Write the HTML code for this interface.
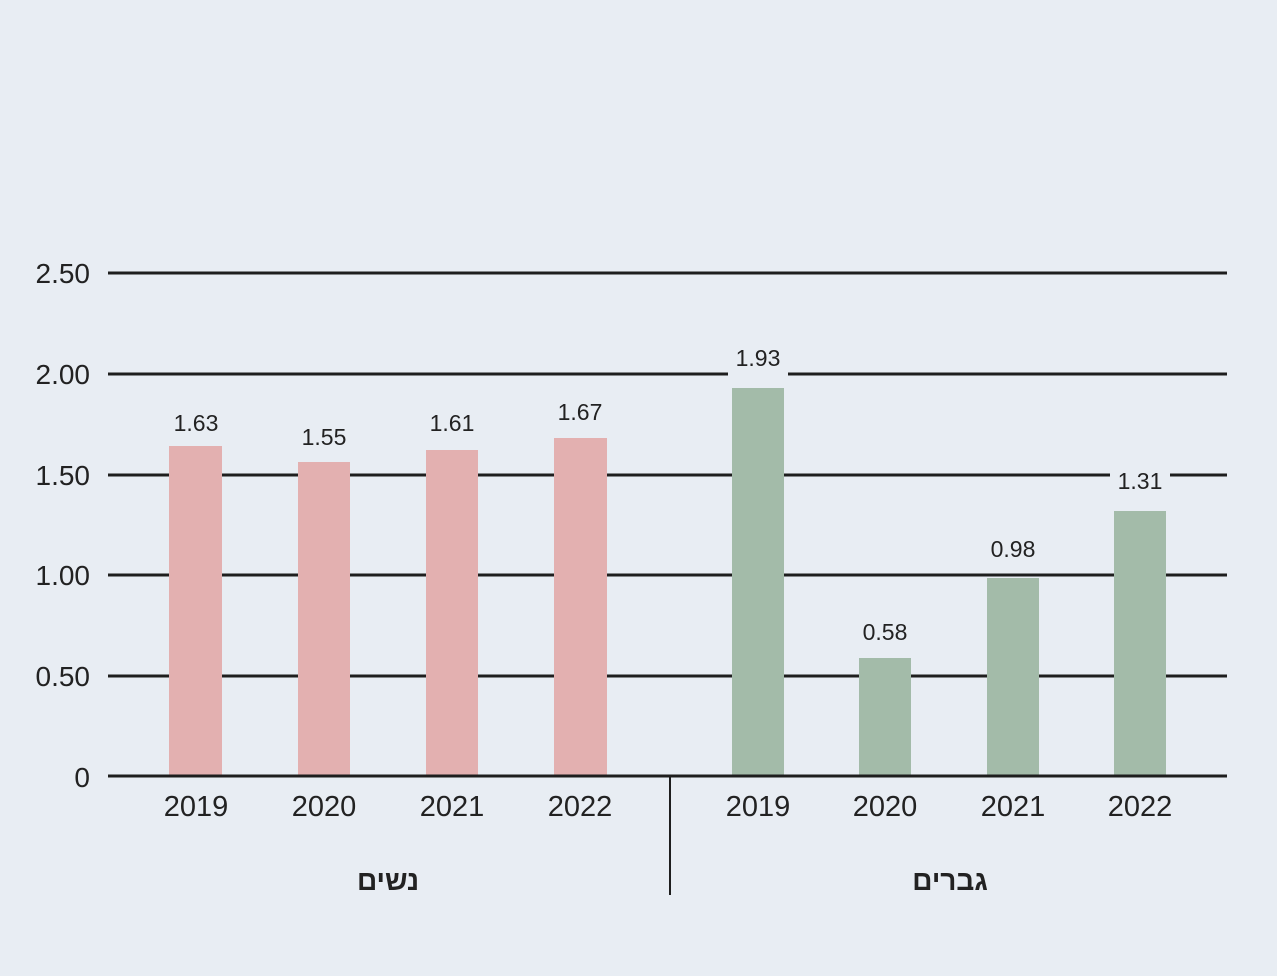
<!DOCTYPE html><html><head><meta charset="utf-8"><style>
html,body{margin:0;padding:0;background:#e8edf3;}
svg{display:block;font-family:"Liberation Sans","Noto Sans CJK SC",sans-serif;}
</style></head><body>
<svg width="1277" height="976" viewBox="0 0 1277 976">
<rect width="1277" height="976" fill="#e8edf3"/>
<g stroke="#1e1e1e" stroke-width="3">
<line x1="108" y1="273" x2="1227" y2="273"/>
<line x1="108" y1="374" x2="1227" y2="374"/>
<line x1="108" y1="475" x2="1227" y2="475"/>
<line x1="108" y1="575" x2="1227" y2="575"/>
<line x1="108" y1="676" x2="1227" y2="676"/>
</g>
<g fill="#e3b0b0">
<rect x="169" y="446" width="53" height="330"/>
<rect x="298" y="462" width="52" height="314"/>
<rect x="426" y="450" width="52" height="326"/>
<rect x="554" y="438" width="53" height="338"/>
</g>
<g fill="#a3bba9">
<rect x="732" y="386" width="52" height="390"/>
<rect x="859" y="658" width="52" height="118"/>
<rect x="987" y="578" width="52" height="198"/>
<rect x="1114" y="511" width="52" height="265"/>
</g>
<rect x="728" y="360" width="60" height="28" fill="#e8edf3"/>
<rect x="1110" y="466" width="60" height="28" fill="#e8edf3"/>
<line x1="108" y1="776" x2="1227" y2="776" stroke="#1e1e1e" stroke-width="3"/>
<line x1="670" y1="776" x2="670" y2="895" stroke="#1e1e1e" stroke-width="2"/>
<g font-size="23" fill="#222" text-anchor="middle">
<text x="196" y="431">1.63</text>
<text x="324" y="445">1.55</text>
<text x="452" y="431">1.61</text>
<text x="580" y="420">1.67</text>
<text x="758" y="366">1.93</text>
<text x="885" y="640">0.58</text>
<text x="1013" y="557">0.98</text>
<text x="1140" y="489">1.31</text>
</g>
<g font-size="28" fill="#222" text-anchor="end">
<text x="90" y="283">2.50</text>
<text x="90" y="384">2.00</text>
<text x="90" y="485">1.50</text>
<text x="90" y="585">1.00</text>
<text x="90" y="686">0.50</text>
<text x="90" y="787">0</text>
</g>
<g font-size="29" fill="#222" text-anchor="middle">
<text x="196" y="816">2019</text>
<text x="324" y="816">2020</text>
<text x="452" y="816">2021</text>
<text x="580" y="816">2022</text>
<text x="758" y="816">2019</text>
<text x="885" y="816">2020</text>
<text x="1013" y="816">2021</text>
<text x="1140" y="816">2022</text>
</g>
<g font-size="28" font-weight="bold" fill="#222" text-anchor="middle">
<text x="388" y="890">נשים</text>
<text x="950" y="890">גברים</text>
</g>
</svg>
</body></html>
